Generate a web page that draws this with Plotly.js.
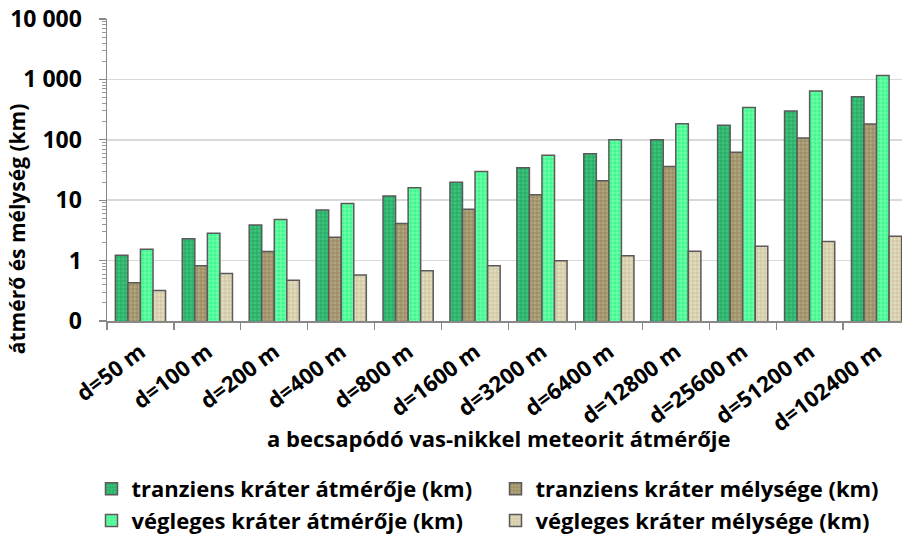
<!DOCTYPE html>
<html>
<head>
<meta charset="utf-8">
<script src="https://cdn.plot.ly/plotly-3.0.1.min.js"></script>
<style>
html,body{margin:0;padding:0;overflow:hidden;background:#fff;}
#chart{width:910px;height:542px;}
</style>
</head>
<body>
<div id="chart"></div>
<script>
const categories = ['d=50 m','d=100 m','d=200 m','d=400 m','d=800 m','d=1600 m','d=3200 m','d=6400 m','d=12800 m','d=25600 m','d=51200 m','d=102400 m'];
const seriesNames = ['tranziens kráter átmérője (km)','tranziens kráter mélysége (km)','végleges kráter átmérője (km)','végleges kráter mélysége (km)'];
const transientDiameter = [1.23, 2.3, 3.9, 6.9, 11.7, 19.9, 34.4, 59, 100, 174, 300, 516];
const transientDepth = [0.43, 0.82, 1.41, 2.43, 4.1, 7.05, 12.3, 20.9, 36, 62, 107, 183];
const finalDiameter = [1.54, 2.83, 4.8, 8.8, 16.1, 29.9, 55.6, 100, 185, 344, 641, 1159];
const finalDepth = [0.32, 0.61, 0.475, 0.58, 0.68, 0.82, 0.99, 1.2, 1.43, 1.73, 2.07, 2.53];
const yTickVals = [0.1, 1, 10, 100, 1000, 10000];
const yTickText = ['0', '1', '10', '100', '1 000', '10 000'];
const xTitle = 'a becsapódó vas-nikkel meteorit átmérője';
const yTitle = 'átmérő és mélység (km)';

const styles = [
  {bg:'#3cc47c', fg:'#1e9a55'},
  {bg:'#b2a57e', fg:'#8a7c55'},
  {bg:'#3ff78f', fg:'#8effbb'},
  {bg:'#e2dbbd', fg:'#c6bb96'}
];
const values = [transientDiameter, transientDepth, finalDiameter, finalDepth];
const FONT = '"Open Sans", Lato, sans-serif';

const data = values.map((v, i) => ({
  type: 'bar',
  name: seriesNames[i],
  x: categories,
  y: v,
  marker: {
    color: styles[i].bg,
    line: {color: '#5a5a5a', width: 1.5},
    pattern: {shape: '+', fgcolor: styles[i].fg, bgcolor: styles[i].bg, size: 4, solidity: 0.3}
  },
  hoverinfo: 'x+y+name'
}));

const layout = {
  width: 910,
  height: 542,
  margin: {l: 107, r: 0, t: 19, b: 220},
  paper_bgcolor: '#ffffff',
  plot_bgcolor: '#ffffff',
  font: {family: FONT, color: '#000', size: 20, weight: 700},
  barmode: 'group',
  bargap: 0.25,
  bargroupgap: 0,
  xaxis: {
    type: 'category',
    tickangle: -37,
    tickson: 'boundaries',
    ticks: 'outside',
    ticklen: 7,
    tickcolor: '#888',
    tickwidth: 1.3,
    ticklabelstandoff: 8,
    showline: true,
    linecolor: '#888',
    linewidth: 1.5,
    showgrid: false,
    tickfont: {family: FONT, size: 22, weight: 700, color: '#000'},
    automargin: false
  },
  yaxis: {
    type: 'log',
    range: [-1, 4],
    tickvals: yTickVals,
    ticktext: yTickText,
    ticks: 'outside',
    ticklen: 7,
    tickcolor: '#888',
    tickwidth: 1.3,
    ticklabelstandoff: 12,
    showline: true,
    linecolor: '#888',
    linewidth: 1.5,
    showgrid: true,
    gridcolor: '#d9d9d9',
    gridwidth: 1.5,
    zeroline: false,
    minor: {ticks: 'outside', ticklen: 4, tickcolor: '#999', tickwidth: 1, showgrid: false, dtick: 'D1'},
    tickfont: {family: FONT, size: 23, weight: 700, color: '#000'},
    automargin: false
  },
  annotations: [{
    text: yTitle,
    xref: 'paper', yref: 'paper',
    x: (17 - 107) / 803, y: 0.304,
    xanchor: 'center', yanchor: 'middle',
    textangle: -90,
    showarrow: false,
    font: {family: FONT, size: 21, weight: 700, color: '#000'}
  }, {
    text: xTitle,
    xref: 'paper', yref: 'paper',
    x: (498 - 107) / 803, y: -0.389,
    xanchor: 'center', yanchor: 'middle',
    showarrow: false,
    font: {family: FONT, size: 22, weight: 700, color: '#000'}
  }],
  legend: {
    orientation: 'h',
    xref: 'paper',
    yref: 'paper',
    x: -0.0193,
    y: -0.485,
    xanchor: 'left',
    yanchor: 'top',
    entrywidth: 359,
    entrywidthmode: 'pixels',
    font: {family: FONT, size: 22, weight: 700, color: '#000'},
    bgcolor: 'rgba(0,0,0,0)',
    tracegroupgap: 0,
    itemwidth: 30
  },
  showlegend: true
};

Plotly.newPlot('chart', data, layout, {displayModeBar: false, staticPlot: true});
</script>
</body>
</html>
